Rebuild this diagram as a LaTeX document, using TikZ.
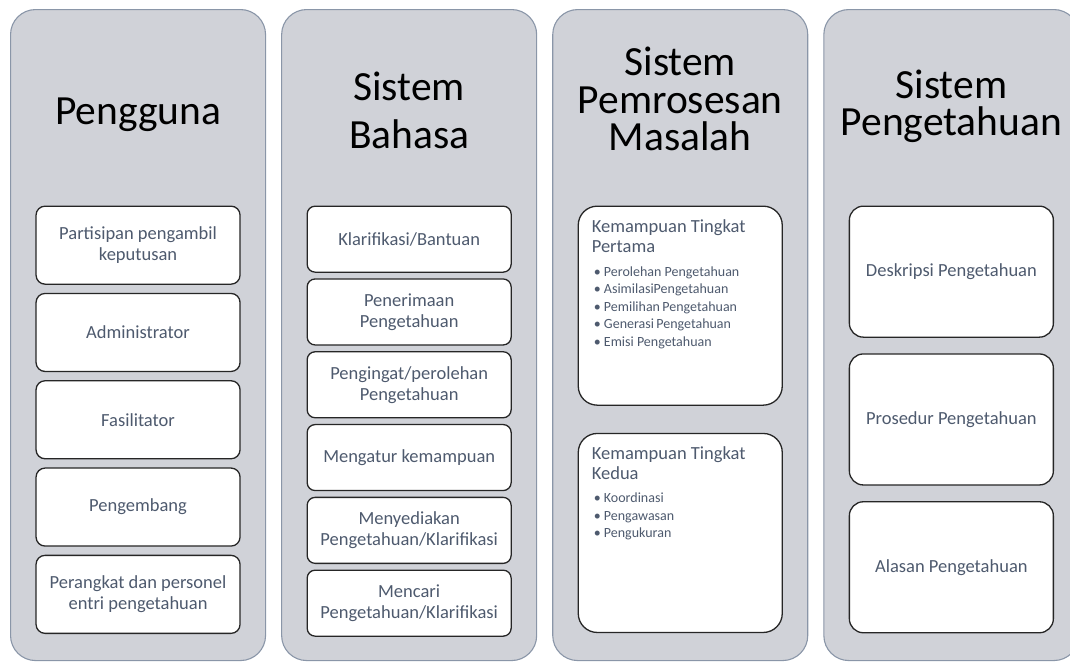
\documentclass[tikz,border=0pt]{standalone}
\usepackage{fontspec}
\setmainfont{Carlito}
\usepackage{xcolor}
\usepackage{tikz}
\usetikzlibrary{positioning}
\definecolor{lanefill}{RGB}{208,210,216}
\definecolor{laneline}{RGB}{138,150,168}
\definecolor{itemtext}{RGB}{78,90,110}
\newcommand{\tightlines}{\lineskiplimit=-30pt\lineskip=0pt}

\begin{document}
\begin{tikzpicture}[
    x=1pt, y=-1pt,
    node distance=15pt,%distance between the columns
    lane/.style={
        % The grey column
        rectangle, rounded corners=25pt,
        minimum width=255pt, minimum height=651pt,
        inner sep=0pt,
        draw=laneline, fill=lanefill, line width=1.1pt},
    lanetitle/.style={
        anchor=north, inner sep=0pt, align=center,
        font=\fontsize{41.5}{37.5}\selectfont\tightlines},
    itembox/.style={
        % The white boxes
        rectangle, rounded corners=9pt,
        minimum width=204pt, inner sep=1pt,
        draw=black!85, fill=white, line width=1.3pt,
        text=itemtext, align=center,
        font=\fontsize{18.5}{21}\selectfont\tightlines},
    userbox/.style={itembox, minimum height=78pt},
    langbox/.style={itembox, minimum height=66pt, rounded corners=8pt},
    procbox/.style={itembox, minimum height=199pt, rounded corners=19pt},
    knowbox/.style={itembox, minimum height=131pt, rounded corners=14pt},
    boxhead/.style={
        anchor=north west, inner sep=0pt, align=left, text=itemtext,
        font=\fontsize{18.5}{20}\selectfont\tightlines},
    boxlist/.style={
        anchor=north west, inner sep=0pt, align=left, text=itemtext,
        font=\fontsize{14}{17.5}\selectfont\tightlines}]
  \useasboundingbox (0,0) rectangle (1070,662);
  \clip (0,0) rectangle (1070,662);
  % the four columns
  \node (user) [lane, anchor=north west] at (10,9) {};
  \node (lang) [lane, right=of user] {};
  \node (proc) [lane, right=of lang] {};
  \node (know) [lane, right=of proc] {};
  % titles
  \node (user title) [lanetitle] at ([yshift=-88.5pt]user.north) {Pengguna};
  \node (lang title) [lanetitle, font=\fontsize{41.5}{48}\selectfont]
        at ([yshift=-62.5pt]lang.north) {Sistem\\Bahasa};
  \node (proc title) [lanetitle] at ([yshift=-38pt]proc.north) {Sistem\\Pemrosesan\\Masalah};
  \node (know title) [lanetitle] at ([yshift=-60.5pt]know.north) {Sistem\\Pengetahuan};
  % Pengguna
  \node (user1) [userbox, anchor=north] at ([yshift=-196.5pt]user.north) {Partisipan pengambil\\keputusan};
  \node (user2) [userbox, below=8pt of user1] {Administrator};
  \node (user3) [userbox, below=8pt of user2] {Fasilitator};
  \node (user4) [userbox, below=8pt of user3] {Pengembang};
  \node (user5) [userbox, below=8pt of user4] {Perangkat dan personel\\entri pengetahuan};
  % Sistem Bahasa
  \node (lang1) [langbox, anchor=north] at ([yshift=-196.5pt]lang.north) {Klarifikasi/Bantuan};
  \node (lang2) [langbox, below=5.5pt of lang1] {Penerimaan\\Pengetahuan};
  \node (lang3) [langbox, below=5.5pt of lang2] {Pengingat/perolehan\\Pengetahuan};
  \node (lang4) [langbox, below=5.5pt of lang3] {Mengatur kemampuan};
  \node (lang5) [langbox, below=5.5pt of lang4] {Menyediakan\\Pengetahuan/Klarifikasi};
  \node (lang6) [langbox, below=5.5pt of lang5] {Mencari\\Pengetahuan/Klarifikasi};
  % Sistem Pemrosesan Masalah
  \node (proc1) [procbox, anchor=north] at ([yshift=-196.5pt]proc.north) {};
  \node (proc2) [procbox, below=27pt of proc1] {};
  \node (proc1 head) [boxhead] at ([xshift=14pt,yshift=-14pt]proc1.north west) {Kemampuan Tingkat\\Pertama};
  \node (proc1 list) [boxlist] at ([xshift=16pt,yshift=-61pt]proc1.north west)
        {\textbullet\ Perolehan Pengetahuan\\
         \textbullet\ AsimilasiPengetahuan\\
         \textbullet\ Pemilihan\,Pengetahuan\\
         \textbullet\ Generasi\,Pengetahuan\\
         \textbullet\ Emisi Pengetahuan};
  \node (proc2 head) [boxhead] at ([xshift=14pt,yshift=-14pt]proc2.north west) {Kemampuan Tingkat\\Kedua};
  \node (proc2 list) [boxlist] at ([xshift=16pt,yshift=-60pt]proc2.north west)
        {\textbullet\ Koordinasi\\
         \textbullet\ Pengawasan\\
         \textbullet\ Pengukuran};
  % Sistem Pengetahuan
  \node (know1) [knowbox, anchor=north] at ([yshift=-196.5pt]know.north) {Deskripsi Pengetahuan};
  \node (know2) [knowbox, below=15.5pt of know1] {Prosedur Pengetahuan};
  \node (know3) [knowbox, below=15.5pt of know2] {Alasan Pengetahuan};
\end{tikzpicture}
\end{document}
